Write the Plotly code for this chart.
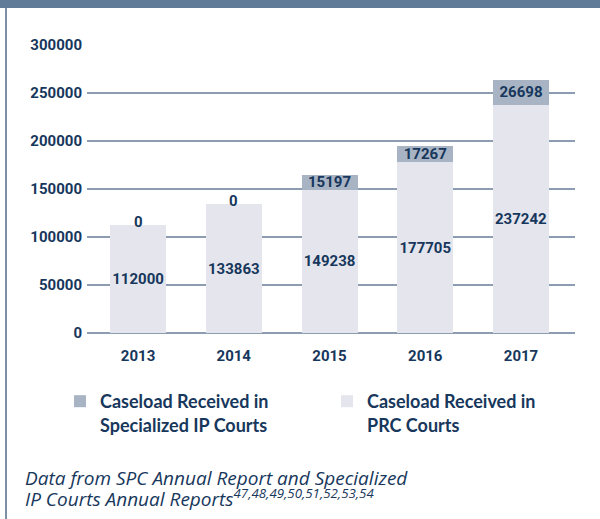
import plotly.graph_objects as go

years = ["2013", "2014", "2015", "2016", "2017"]
prc_courts = [112000, 133863, 149238, 177705, 237242]
ip_courts = [0, 0, 15197, 17267, 26698]
y_ticks = [0, 50000, 100000, 150000, 200000, 250000, 300000]
legend_ip = "Caseload Received in<br>Specialized IP Courts"
legend_prc = "Caseload Received in<br>PRC Courts"
caption_1 = "Data from SPC Annual Report and Specialized"
caption_2 = "IP Courts Annual Reports<sup>47,48,49,50,51,52,53,54</sup>"

NAVY = "#17375c"
NUM_FONT = dict(family="Roboto, Liberation Sans, sans-serif", size=15, color=NAVY, weight="bold")

fig = go.Figure()
fig.add_trace(go.Bar(
    x=years, y=prc_courts, name=legend_prc,
    marker=dict(color="#e5e6ed", line=dict(width=0)),
    width=0.585,
    text=[str(v) for v in prc_courts], textposition="inside", textangle=0,
    insidetextanchor="middle", constraintext="none",
    textfont=NUM_FONT, hoverinfo="skip",
))
fig.add_trace(go.Bar(
    x=years, y=ip_courts, name=legend_ip,
    marker=dict(color="#a8b4c4", line=dict(width=0)),
    width=0.585,
    text=[str(v) if v != 0 else "" for v in ip_courts],
    textposition="inside", textangle=0,
    insidetextanchor="middle", constraintext="none",
    textfont=NUM_FONT, insidetextfont=NUM_FONT,
    hoverinfo="skip",
))

L, R, T, B = 87, 25, 45, 186
W, H = 600, 519
pw, ph = W - L - R, H - T - B

def px_x(x):
    return (x - L) / pw

def px_y(y):
    return (H - B - y) / ph

CAP_FONT = dict(family="Open Sans, Lato, sans-serif", size=19, color=NAVY, style="italic")

zero_labels = [
    dict(x=i, y=p + v, xref="x", yref="y", text=str(v), showarrow=False,
         yanchor="middle", yshift=3, font=NUM_FONT)
    for i, (p, v) in enumerate(zip(prc_courts, ip_courts)) if v == 0
]

fig.update_layout(
    width=W, height=H,
    margin=dict(l=L, r=R, t=T, b=B, pad=0),
    paper_bgcolor="white", plot_bgcolor="white",
    barmode="stack",
    uniformtext=dict(minsize=15, mode="show"),
    showlegend=True,
    legend=dict(
        orientation="h", traceorder="reversed",
        x=px_x(60), xanchor="left", y=px_y(383), yanchor="top",
        valign="top",
        entrywidth=222, entrywidthmode="pixels",
        font=dict(family="Lato, Open Sans, sans-serif", size=18, color=NAVY, weight="bold"),
        bgcolor="rgba(0,0,0,0)",
    ),
    xaxis=dict(
        type="category",
        range=[-0.533, 4.564], showgrid=False, showline=False, zeroline=False,
        ticks="", tickfont=NUM_FONT, ticklabelstandoff=12, fixedrange=True,
    ),
    yaxis=dict(
        range=[0, 300000], tickvals=y_ticks, tickformat="d",
        showgrid=True, gridcolor="#8d9db1", gridwidth=2,
        zeroline=True, zerolinecolor="#8d9db1", zerolinewidth=2,
        showline=False, ticks="", tickfont=NUM_FONT, ticklabelstandoff=4,
        fixedrange=True,
    ),
    shapes=[
        dict(type="rect", xref="paper", yref="paper",
             x0=px_x(0), x1=px_x(600), y0=px_y(8), y1=px_y(0),
             fillcolor="#5f7b97", line=dict(width=0), layer="above"),
        dict(type="rect", xref="paper", yref="paper",
             x0=px_x(5), x1=px_x(7), y0=px_y(519), y1=px_y(8),
             fillcolor="#7d8fa4", line=dict(width=0), layer="above"),
    ],
    annotations=zero_labels + [
        dict(text=caption_1, xref="paper", yref="paper",
             x=px_x(23), xanchor="left", y=px_y(478), yanchor="middle",
             showarrow=False, font=CAP_FONT),
        dict(text=caption_2, xref="paper", yref="paper",
             x=px_x(23), xanchor="left", y=px_y(514), yanchor="bottom",
             showarrow=False, font=CAP_FONT),
    ],
)

fig.write_html(
    "out.html",
    config={"displayModeBar": False, "staticPlot": True},
    post_script="document.body.style.margin='0';document.body.style.padding='0';",
)
